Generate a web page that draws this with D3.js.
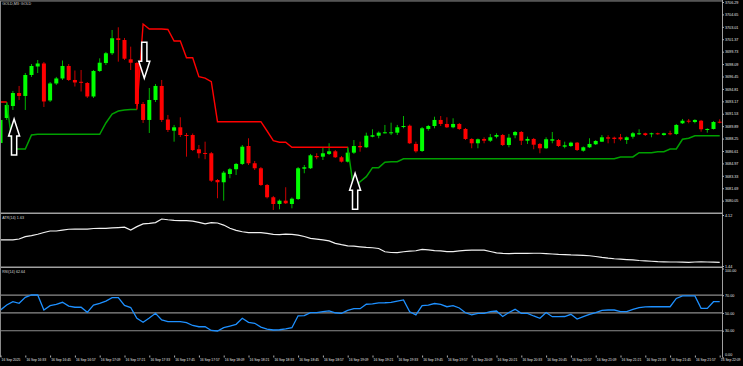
<!DOCTYPE html>
<html>
<head>
<meta charset="utf-8">
<script src="https://cdn.jsdelivr.net/npm/d3@7"></script>
<style>
  html, body { margin: 0; padding: 0; background: #000; overflow: hidden; }
  svg { display: block; }
</style>
</head>
<body>
<svg id="chart"></svg>
<script>
// ---- data (GOLD, M3) ----
const symbolLabel = "GOLD,M3: GOLD";
const barStart = "2025-09-16 16:21";
const barMinutes = 3;

const opens = [
  3687.67, 3690.97, 3692.55, 3694.27, 3693.88, 3696.65, 3697.77, 3698.17, 3693.28, 3695.53,
  3696.19, 3697.84, 3695.99, 3695.75, 3695.59, 3693.81, 3697.18, 3698.23, 3699.52, 3701.50,
  3701.27, 3698.72, 3698.23, 3692.82, 3690.71, 3693.35, 3695.20, 3690.77, 3689.29, 3689.74,
  3688.72, 3688.72, 3686.84, 3686.35, 3686.31, 3682.78, 3682.48, 3683.57, 3684.20, 3684.90,
  3687.27, 3684.99, 3684.33, 3682.12, 3680.50, 3679.61, 3680.05, 3679.61, 3680.27, 3684.27,
  3684.33, 3685.95, 3685.86, 3686.22, 3686.57, 3685.78, 3685.20, 3686.39, 3687.27, 3687.10,
  3688.50, 3688.63, 3688.99, 3688.99, 3689.03, 3689.82, 3689.95, 3687.54, 3686.61, 3689.52,
  3689.91, 3690.71, 3690.18, 3689.74, 3690.18, 3689.52, 3688.20, 3687.63, 3688.20, 3687.97,
  3688.50, 3688.72, 3687.40, 3688.69, 3689.12, 3687.97, 3688.20, 3687.54, 3686.97, 3687.97,
  3688.06, 3687.18, 3687.27, 3687.71, 3686.65, 3687.10, 3687.50, 3687.84, 3688.42, 3688.37,
  3688.42, 3688.06, 3688.50, 3688.86, 3688.95, 3688.86, 3688.95, 3688.72, 3688.95, 3688.86,
  3690.27, 3690.61, 3690.44, 3690.61, 3689.39, 3689.52, 3690.48
];
const highs = [
  3690.97, 3692.95, 3694.54, 3695.20, 3696.91, 3698.10, 3698.63, 3698.37, 3695.72, 3696.39,
  3698.56, 3698.10, 3697.24, 3697.31, 3695.72, 3697.31, 3698.85, 3699.69, 3702.59, 3702.95,
  3701.54, 3700.39, 3698.37, 3693.08, 3694.93, 3695.46, 3695.99, 3691.37, 3690.05, 3691.06,
  3688.99, 3688.92, 3687.40, 3687.84, 3686.48, 3682.91, 3683.97, 3684.37, 3685.03, 3687.40,
  3688.29, 3685.29, 3684.50, 3682.25, 3680.67, 3680.21, 3681.82, 3680.47, 3684.50, 3684.76,
  3686.22, 3686.31, 3687.10, 3687.63, 3686.74, 3685.95, 3687.18, 3688.06, 3687.84, 3689.03,
  3689.48, 3689.19, 3690.05, 3690.35, 3690.05, 3691.23, 3690.11, 3687.84, 3689.78, 3690.05,
  3691.14, 3691.23, 3691.06, 3690.93, 3690.31, 3689.65, 3688.29, 3688.26, 3688.42, 3688.86,
  3688.95, 3688.86, 3688.86, 3689.25, 3689.25, 3688.50, 3688.33, 3687.67, 3688.42, 3689.12,
  3688.20, 3687.84, 3687.84, 3687.80, 3687.21, 3688.29, 3688.06, 3688.72, 3688.69, 3688.50,
  3688.86, 3688.53, 3689.12, 3689.48, 3689.03, 3689.03, 3689.03, 3689.03, 3689.29, 3690.18,
  3690.84, 3690.84, 3690.80, 3690.71, 3689.61, 3690.57, 3690.80
];
const lows = [
  3687.27, 3690.71, 3692.03, 3693.35, 3692.03, 3696.39, 3696.91, 3692.42, 3693.08, 3695.33,
  3695.99, 3695.86, 3695.13, 3694.47, 3693.61, 3693.61, 3697.05, 3697.97, 3699.29, 3698.41,
  3698.63, 3697.31, 3692.55, 3690.31, 3688.99, 3693.08, 3690.44, 3689.12, 3687.84, 3688.46,
  3685.86, 3686.61, 3685.65, 3685.52, 3682.52, 3680.37, 3680.05, 3683.01, 3683.44, 3684.76,
  3684.76, 3684.10, 3681.99, 3680.34, 3678.82, 3678.91, 3679.61, 3679.04, 3680.14, 3683.67,
  3684.23, 3685.52, 3685.42, 3686.08, 3685.69, 3685.09, 3685.09, 3686.22, 3686.52, 3687.01,
  3688.42, 3688.29, 3688.92, 3688.72, 3688.72, 3689.61, 3687.54, 3686.39, 3686.48, 3689.29,
  3689.61, 3689.91, 3689.65, 3689.61, 3689.39, 3688.06, 3686.97, 3686.97, 3687.63, 3687.80,
  3688.29, 3687.27, 3687.10, 3688.29, 3687.40, 3687.54, 3686.84, 3686.31, 3686.88, 3687.63,
  3687.14, 3686.97, 3687.14, 3686.61, 3686.52, 3687.01, 3687.40, 3687.80, 3687.63, 3687.63,
  3687.97, 3687.54, 3688.24, 3688.72, 3688.59, 3688.42, 3688.76, 3688.63, 3688.69, 3688.72,
  3690.18, 3690.27, 3690.27, 3689.16, 3689.03, 3689.45, 3690.27
];
const closes = [
  3690.71, 3692.69, 3694.27, 3693.88, 3696.65, 3697.84, 3698.17, 3693.15, 3695.53, 3696.19,
  3697.84, 3695.99, 3695.66, 3695.66, 3693.81, 3697.18, 3698.27, 3699.52, 3701.50, 3701.27,
  3698.80, 3698.27, 3692.82, 3690.71, 3693.35, 3695.20, 3690.71, 3689.39, 3689.74, 3688.72,
  3688.59, 3686.74, 3686.31, 3686.28, 3682.69, 3682.48, 3683.75, 3684.20, 3684.90, 3687.18,
  3684.99, 3684.33, 3682.12, 3680.50, 3679.61, 3680.05, 3679.70, 3680.31, 3684.33, 3684.46,
  3686.04, 3685.78, 3686.31, 3686.57, 3685.78, 3685.20, 3686.39, 3687.27, 3687.10, 3688.63,
  3688.69, 3689.03, 3689.08, 3689.08, 3689.74, 3689.91, 3687.63, 3686.57, 3689.61, 3689.91,
  3690.71, 3690.18, 3689.74, 3690.18, 3689.52, 3688.20, 3687.63, 3688.16, 3687.97, 3688.42,
  3688.72, 3687.40, 3688.37, 3689.12, 3687.97, 3688.20, 3687.44, 3686.97, 3688.16, 3688.16,
  3687.27, 3687.36, 3687.71, 3686.74, 3687.10, 3687.54, 3687.93, 3688.42, 3688.24, 3688.20,
  3688.16, 3688.42, 3688.95, 3688.95, 3688.72, 3688.95, 3688.86, 3688.95, 3688.82, 3690.05,
  3690.61, 3690.48, 3690.71, 3689.48, 3689.52, 3690.44, 3690.40
];

// trend line (green while up, red while down)
const trendUp = [
  null, 3693.08, 3686.88, 3686.88, 3686.88, 3688.72, 3688.82, 3688.82, 3688.82, 3688.82,
  3688.82, 3688.82, 3688.82, 3688.82, 3688.82, 3688.82, 3688.82, 3690.31, 3691.50, 3691.89,
  3692.03, 3692.09, 3692.09, null, null, null, null, null, null, null,
  null, null, null, null, null, null, null, null, null, null,
  null, null, null, null, null, null, null, null, null, null,
  null, null, null, null, null, null, 3687.10, 3681.46, 3682.56, 3683.22,
  3684.41, 3684.41, 3685.12, 3685.20, 3685.20, 3685.59, 3685.59, 3685.59, 3685.59, 3685.59,
  3685.59, 3685.59, 3685.59, 3685.59, 3685.59, 3685.59, 3685.59, 3685.59, 3685.59, 3685.59,
  3685.59, 3685.59, 3685.59, 3685.59, 3685.59, 3685.59, 3685.59, 3685.59, 3685.59, 3685.59,
  3685.59, 3685.59, 3685.59, 3685.59, 3685.59, 3685.59, 3685.59, 3685.59, 3685.59, 3685.59,
  3685.82, 3685.82, 3685.82, 3686.39, 3686.39, 3686.39, 3686.52, 3686.52, 3686.88, 3686.88,
  3688.16, 3688.29, 3688.63, 3688.63, 3688.63, 3688.63, 3688.63
];
const trendDn = [
  3693.08, 3693.08, null, null, null, null, null, null, null, null,
  null, null, null, null, null, null, null, null, null, null,
  null, null, 3692.09, 3703.38, 3702.72, 3702.72, 3702.72, 3702.66, 3701.14, 3701.14,
  3698.93, 3698.93, 3696.42, 3696.24, 3695.76, 3690.48, 3690.48, 3690.48, 3690.48, 3690.48,
  3690.48, 3690.48, 3690.48, 3689.25, 3687.97, 3687.76, 3687.76, 3687.10, 3687.10, 3687.10,
  3687.10, 3687.10, 3687.10, 3687.10, 3687.10, 3687.10, 3687.10, null, null, null,
  null, null, null, null, null, null, null, null, null, null,
  null, null, null, null, null, null, null, null, null, null,
  null, null, null, null, null, null, null, null, null, null,
  null, null, null, null, null, null, null, null, null, null,
  null, null, null, null, null, null, null, null, null, null,
  null, null, null, null, null, null, null
];

// signal arrows: bar index, direction, price at arrow tip
const signalBars = [2, 23, 57];
const signalDir = ["up", "down", "up"];
const signalPrice = [3690.84, 3696.21, 3683.67];

const atr = [
  2.81, 2.81, 2.81, 2.86, 2.98, 3.04, 3.11, 3.20, 3.28, 3.28,
  3.33, 3.37, 3.38, 3.38, 3.38, 3.41, 3.42, 3.42, 3.44, 3.46,
  3.48, 3.33, 3.51, 3.65, 3.68, 3.72, 3.91, 3.87, 3.84, 3.82,
  3.82, 3.80, 3.73, 3.65, 3.72, 3.70, 3.59, 3.42, 3.31, 3.24,
  3.19, 3.19, 3.19, 3.15, 3.10, 3.09, 3.12, 3.10, 3.06, 2.99,
  2.89, 2.85, 2.81, 2.76, 2.63, 2.56, 2.50, 2.48, 2.45, 2.42,
  2.40, 2.36, 2.19, 2.15, 2.14, 2.19, 2.22, 2.24, 2.31, 2.29,
  2.25, 2.23, 2.20, 2.20, 2.23, 2.26, 2.27, 2.27, 2.27, 2.20,
  2.13, 2.10, 2.09, 2.10, 2.10, 2.10, 2.11, 2.11, 2.09, 2.07,
  2.05, 2.04, 2.02, 2.01, 2.00, 1.98, 1.94, 1.89, 1.85, 1.82,
  1.80, 1.78, 1.76, 1.73, 1.71, 1.69, 1.67, 1.66, 1.65, 1.65,
  1.64, 1.63, 1.65, 1.66, 1.65, 1.64, 1.63
];
const rsi = [
  53.3, 58.9, 62.7, 60.9, 67.6, 70.2, 70.2, 53.3, 58.2, 59.7,
  62.0, 57.8, 56.4, 56.4, 50.7, 58.9, 60.9, 63.4, 67.2, 67.2,
  58.4, 56.1, 44.0, 39.5, 44.3, 49.6, 42.1, 40.2, 40.2, 40.2,
  39.0, 35.9, 34.5, 34.5, 30.3, 29.7, 33.4, 35.3, 37.2, 44.0,
  39.5, 38.4, 34.0, 31.7, 30.8, 31.1, 32.0, 33.4, 46.8, 46.9,
  50.3, 50.3, 51.4, 52.4, 50.2, 49.6, 52.8, 54.8, 54.8, 59.8,
  60.1, 61.4, 61.5, 61.8, 63.4, 64.6, 51.3, 47.9, 58.2, 58.9,
  60.6, 59.7, 57.0, 58.2, 55.6, 50.2, 47.9, 49.6, 49.6, 51.4,
  52.2, 46.0, 50.5, 54.1, 49.6, 49.6, 46.6, 44.0, 50.5, 45.8,
  45.8, 46.0, 48.5, 43.2, 45.8, 48.4, 50.5, 52.8, 53.3, 53.3,
  51.6, 51.4, 53.9, 56.0, 56.9, 57.0, 57.0, 57.0, 57.0, 66.3,
  69.3, 69.1, 69.1, 55.2, 55.2, 62.64, 62.64
];

const priceTicks = [3706.29, 3704.65, 3703.01, 3701.37, 3699.73, 3698.09, 3696.45, 3694.81,
  3693.17, 3691.53, 3689.89, 3688.25, 3686.61, 3684.97, 3683.33, 3681.69, 3680.05];
const atrTicks = [4.12, 1.44];
const rsiTicks = [100, 70, 50, 30, 0];
const rsiLevels = [70, 50, 30];
const timeTickEvery = 4; // one label every 4 bars (12 minutes)

// ---- layout ----
const W = 743, H = 366;
const axisX = 722;
const font = "Tahoma, 'Liberation Sans', 'DejaVu Sans', sans-serif";

const svg = d3.select("#chart")
    .attr("width", W)
    .attr("height", H)
    .style("background", "#000");

const parse = d3.timeParse("%Y-%m-%d %H:%M");
const t0 = parse(barStart);
const bars = opens.map((o, i) => ({
    t: d3.timeMinute.offset(t0, i * barMinutes),
    o: o, h: highs[i], l: lows[i], c: closes[i],
    up: trendUp[i], dn: trendDn[i], atr: atr[i], rsi: rsi[i]
}));

// scales
const x = d3.scaleTime()
    .domain([bars[0].t, bars[bars.length - 1].t])
    .range([0.5, 719.7]);
const y = d3.scaleLinear().domain([3678.42, 3706.29]).range([213, 2]);
const yAtr = d3.scaleLinear().domain([1.44, 4.12]).range([266, 215]);
const yRsi = d3.scaleLinear().domain([0, 100]).range([357.4, 268.5]);

// clip areas for the three windows
const defs = svg.append("defs");
[["clipMain", 2, 211], ["clipAtr", 214.5, 52], ["clipRsi", 268, 89]].forEach(c => {
    defs.append("clipPath").attr("id", c[0])
        .append("rect").attr("x", 1).attr("y", c[1]).attr("width", axisX - 1).attr("height", c[2]);
});

// frame: top band, window separators, left border, price axis line
svg.append("rect").attr("x", 0).attr("y", 0).attr("width", axisX).attr("height", 1.8).attr("fill", "#555");
[213.2, 267.2].forEach(yy => {
    svg.append("line").attr("x1", 0).attr("x2", axisX).attr("y1", yy).attr("y2", yy)
        .attr("stroke", "#a0a0a0").attr("stroke-width", 1.6);
});
svg.append("line").attr("x1", 0.5).attr("x2", 0.5).attr("y1", 1).attr("y2", 357)
    .attr("stroke", "#8a8a8a").attr("stroke-width", 1);
svg.append("line").attr("x1", axisX + 0.5).attr("x2", axisX + 0.5).attr("y1", 0).attr("y2", 357)
    .attr("stroke", "#a0a0a0").attr("stroke-width", 1);

// RSI levels
svg.append("g").selectAll("line").data(rsiLevels).enter().append("line")
    .attr("x1", 1).attr("x2", axisX)
    .attr("y1", d => yRsi(d)).attr("y2", d => yRsi(d))
    .attr("stroke", "#8c8c8c").attr("stroke-width", 1.2);

// ---- main window: candles ----
const g = svg.append("g").attr("clip-path", "url(#clipMain)");
const bw = 4;

g.selectAll(".wick").data(bars).enter().append("line")
    .attr("class", "wick")
    .attr("x1", d => x(d.t)).attr("x2", d => x(d.t))
    .attr("y1", d => y(d.h)).attr("y2", d => y(d.l))
    .attr("stroke", d => d.c >= d.o ? "#00b400" : "#c80000")
    .attr("stroke-width", 1);

g.selectAll(".body").data(bars).enter().append("rect")
    .attr("class", "body")
    .attr("x", d => x(d.t) - bw / 2)
    .attr("width", bw)
    .attr("y", d => y(Math.max(d.o, d.c)))
    .attr("height", d => Math.max(1, Math.abs(y(d.o) - y(d.c))))
    .attr("fill", d => d.c >= d.o ? "#00ff00" : "#ff0000");

// trend lines
const lineUp = d3.line().defined(d => d.up != null).x(d => x(d.t)).y(d => y(d.up));
const lineDn = d3.line().defined(d => d.dn != null).x(d => x(d.t)).y(d => y(d.dn));
g.append("path").datum(bars).attr("d", lineUp)
    .attr("fill", "none").attr("stroke", "#00a000").attr("stroke-width", 1.5);
g.append("path").datum(bars).attr("d", lineDn)
    .attr("fill", "none").attr("stroke", "#ff0000").attr("stroke-width", 1.4);

// arrows (hollow, white outline)
function arrowPath(cx, ty, dir) {
    const s = dir == "up" ? 1 : -1;
    const p = d3.path();
    p.moveTo(cx, ty);
    p.lineTo(cx + 5.5, ty + s * 17);
    p.lineTo(cx + 2.6, ty + s * 17);
    p.lineTo(cx + 2.6, ty + s * 36);
    p.lineTo(cx - 2.6, ty + s * 36);
    p.lineTo(cx - 2.6, ty + s * 17);
    p.lineTo(cx - 5.5, ty + s * 17);
    p.closePath();
    return p.toString();
}
g.selectAll(".arrow").data(signalBars).enter().append("path")
    .attr("class", "arrow")
    .attr("d", (k, i) => arrowPath(x(bars[k].t) + 1.2, y(signalPrice[i]), signalDir[i]))
    .attr("fill", "#000")
    .attr("stroke", "#fff")
    .attr("stroke-width", 1.5)
    .attr("stroke-linejoin", "miter");

// ---- ATR window ----
svg.append("g").attr("clip-path", "url(#clipAtr)")
    .append("path").datum(bars)
    .attr("d", d3.line().x(d => x(d.t)).y(d => yAtr(d.atr)))
    .attr("fill", "none").attr("stroke", "#f0f0f0").attr("stroke-width", 1.2);

// ---- RSI window ----
svg.append("g").attr("clip-path", "url(#clipRsi)")
    .append("path").datum(bars)
    .attr("d", d3.line().x(d => x(d.t)).y(d => yRsi(d.rsi)))
    .attr("fill", "none").attr("stroke", "#1e90ff").attr("stroke-width", 1.3);

// ---- axes ----
function styleAxis(a, size) {
    a.attr("font-family", font).attr("font-size", size);
    a.select(".domain").remove();
    a.selectAll(".tick line").attr("stroke", "#b0b0b0");
    a.selectAll(".tick text").attr("fill", "#e6e6e6");
}

const yAxisG = svg.append("g")
    .attr("transform", `translate(${axisX},0)`)
    .call(d3.axisRight(y).tickValues(priceTicks).tickFormat(d3.format(".2f")).tickSize(2).tickPadding(1));
styleAxis(yAxisG, 3.7);

const atrAxisG = svg.append("g")
    .attr("transform", `translate(${axisX},0)`)
    .call(d3.axisRight(yAtr).tickValues(atrTicks).tickFormat(d3.format(".2f")).tickSize(2).tickPadding(1));
styleAxis(atrAxisG, 3.7);

const rsiAxisG = svg.append("g")
    .attr("transform", `translate(${axisX},0)`)
    .call(d3.axisRight(yRsi).tickValues(rsiTicks).tickFormat(d3.format(".2f")).tickSize(2).tickPadding(1));
styleAxis(rsiAxisG, 3.7);
// keep end labels inside their window
rsiAxisG.selectAll(".tick text").attr("dy", d => d == 100 ? "0.9em" : d == 0 ? "-0.5em" : "0.32em");

const fmtFirst = d3.timeFormat("%d %b %Y");
const fmtTime = d3.timeFormat("%d %b %H:%M");
const timeTicks = bars.filter((d, i) => i % timeTickEvery == 0).map(d => d.t);
const xAxisG = svg.append("g")
    .attr("transform", "translate(0,355.5)")
    .call(d3.axisBottom(x).tickValues(timeTicks)
        .tickFormat((d, i) => i == 0 ? fmtFirst(d) : fmtTime(d))
        .tickSize(2).tickPadding(1.5));
styleAxis(xAxisG, 3.3);
xAxisG.selectAll(".tick text").attr("text-anchor", "start").attr("x", 0.6);

// ---- window labels ----
const labels = [
    [symbolLabel, 3.4],
    [`ATR(14) ${d3.format(".2f")(atr[atr.length - 1])}`, 217.4],
    [`RSI(14) ${d3.format(".2f")(rsi[rsi.length - 1])}`, 271.5]
];
svg.append("g").selectAll("text").data(labels).enter().append("text")
    .attr("x", 2.2)
    .attr("y", d => d[1])
    .attr("dy", "0.35em")
    .attr("fill", "#d8d8d8")
    .attr("font-family", font)
    .attr("font-size", 3.7)
    .text(d => d[0]);
</script>
</body>
</html>
